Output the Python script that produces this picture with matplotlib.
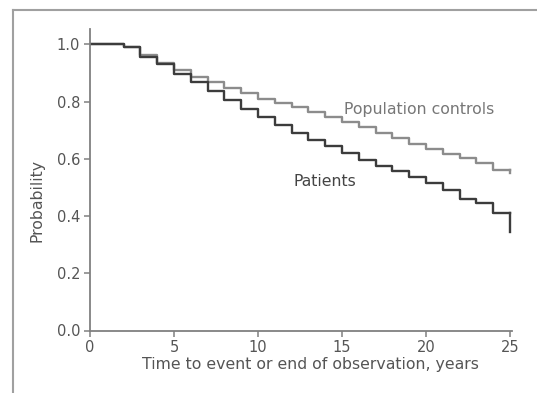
import matplotlib
matplotlib.use("Agg")
import matplotlib.pyplot as plt
from matplotlib.lines import Line2D

# survival curves (step at start of each year)
years = [0, 2, 3, 4, 5, 6, 7, 8, 9, 10, 11, 12, 13, 14, 15, 16, 17, 18, 19, 20, 21, 22, 23, 24, 25]
patients = [1.0, 0.992, 0.956, 0.932, 0.898, 0.868, 0.838, 0.805, 0.776, 0.745, 0.72, 0.692, 0.667,
            0.645, 0.62, 0.596, 0.575, 0.558, 0.535, 0.515, 0.49, 0.46, 0.445, 0.41, 0.345]
controls = [1.0, 0.992, 0.962, 0.935, 0.91, 0.887, 0.867, 0.847, 0.829, 0.808, 0.794, 0.78, 0.765,
            0.748, 0.73, 0.71, 0.689, 0.672, 0.652, 0.634, 0.616, 0.602, 0.585, 0.561, 0.55]
# last entry is the drop at the end of follow-up, keep the level before it till t=25
pat_end = patients[-2]
ctl_end = controls[-2]

xticks = [0, 5, 10, 15, 20, 25]
yticks = [0.0, 0.2, 0.4, 0.6, 0.8, 1.0]

plt.rcParams['font.family'] = ['DejaVu Sans']

fig = plt.figure(figsize=(5.37, 3.93), dpi=100)
ax = fig.add_axes([90/537, 1-330.5/393, (511.7-90)/537, (330.5-29)/393])

dark = '#3c3c3c'
light = '#8c8c8c'
axcol = '#808080'
txtcol = '#555555'

ax.step(years[:-1] + [25], controls[:-1] + [ctl_end], where='post', color=light, lw=1.7)
ax.plot([25, 25], [ctl_end, controls[-1]], color=light, lw=1.7)
ax.step(years[:-1] + [25], patients[:-1] + [pat_end], where='post', color=dark, lw=1.7)
ax.plot([25, 25], [pat_end, patients[-1]], color=dark, lw=1.7)

ax.text(15.1, 0.771, 'Population controls', color='#777777', fontsize=11.3, va='center')
ax.text(12.1, 0.521, 'Patients', color='#444444', fontsize=11.3, va='center')

ax.set_xlim(0, 25.1)
ax.set_ylim(0, 1.054)
ax.set_xticks(xticks)
ax.set_yticks(yticks)
ax.set_yticklabels(['%.1f' % v for v in yticks])

for s in ['top', 'right']:
    ax.spines[s].set_visible(False)
for s in ['left', 'bottom']:
    ax.spines[s].set_color(axcol)
    ax.spines[s].set_linewidth(1.3)

ax.tick_params(direction='out', length=4, width=1.1, color=axcol, labelcolor=txtcol,
               labelsize=10.5, pad=3)
ax.set_xlabel('Time to event or end of observation, years', color=txtcol, fontsize=11.3)
ax.set_ylabel('Probability', color=txtcol, fontsize=11.3)
ax.xaxis.set_label_coords(0.522, -0.088)
ax.yaxis.set_label_coords(-0.107, 0.433)

# outer frame (top and left edge only visible)
fig.add_artist(Line2D([13/537, 1], [1-10/393, 1-10/393], transform=fig.transFigure, color='#a0a0a0', lw=1.5))
fig.add_artist(Line2D([13/537, 13/537], [0, 1-10/393], transform=fig.transFigure, color='#a0a0a0', lw=1.5))

fig.savefig('out.png', dpi=100)
